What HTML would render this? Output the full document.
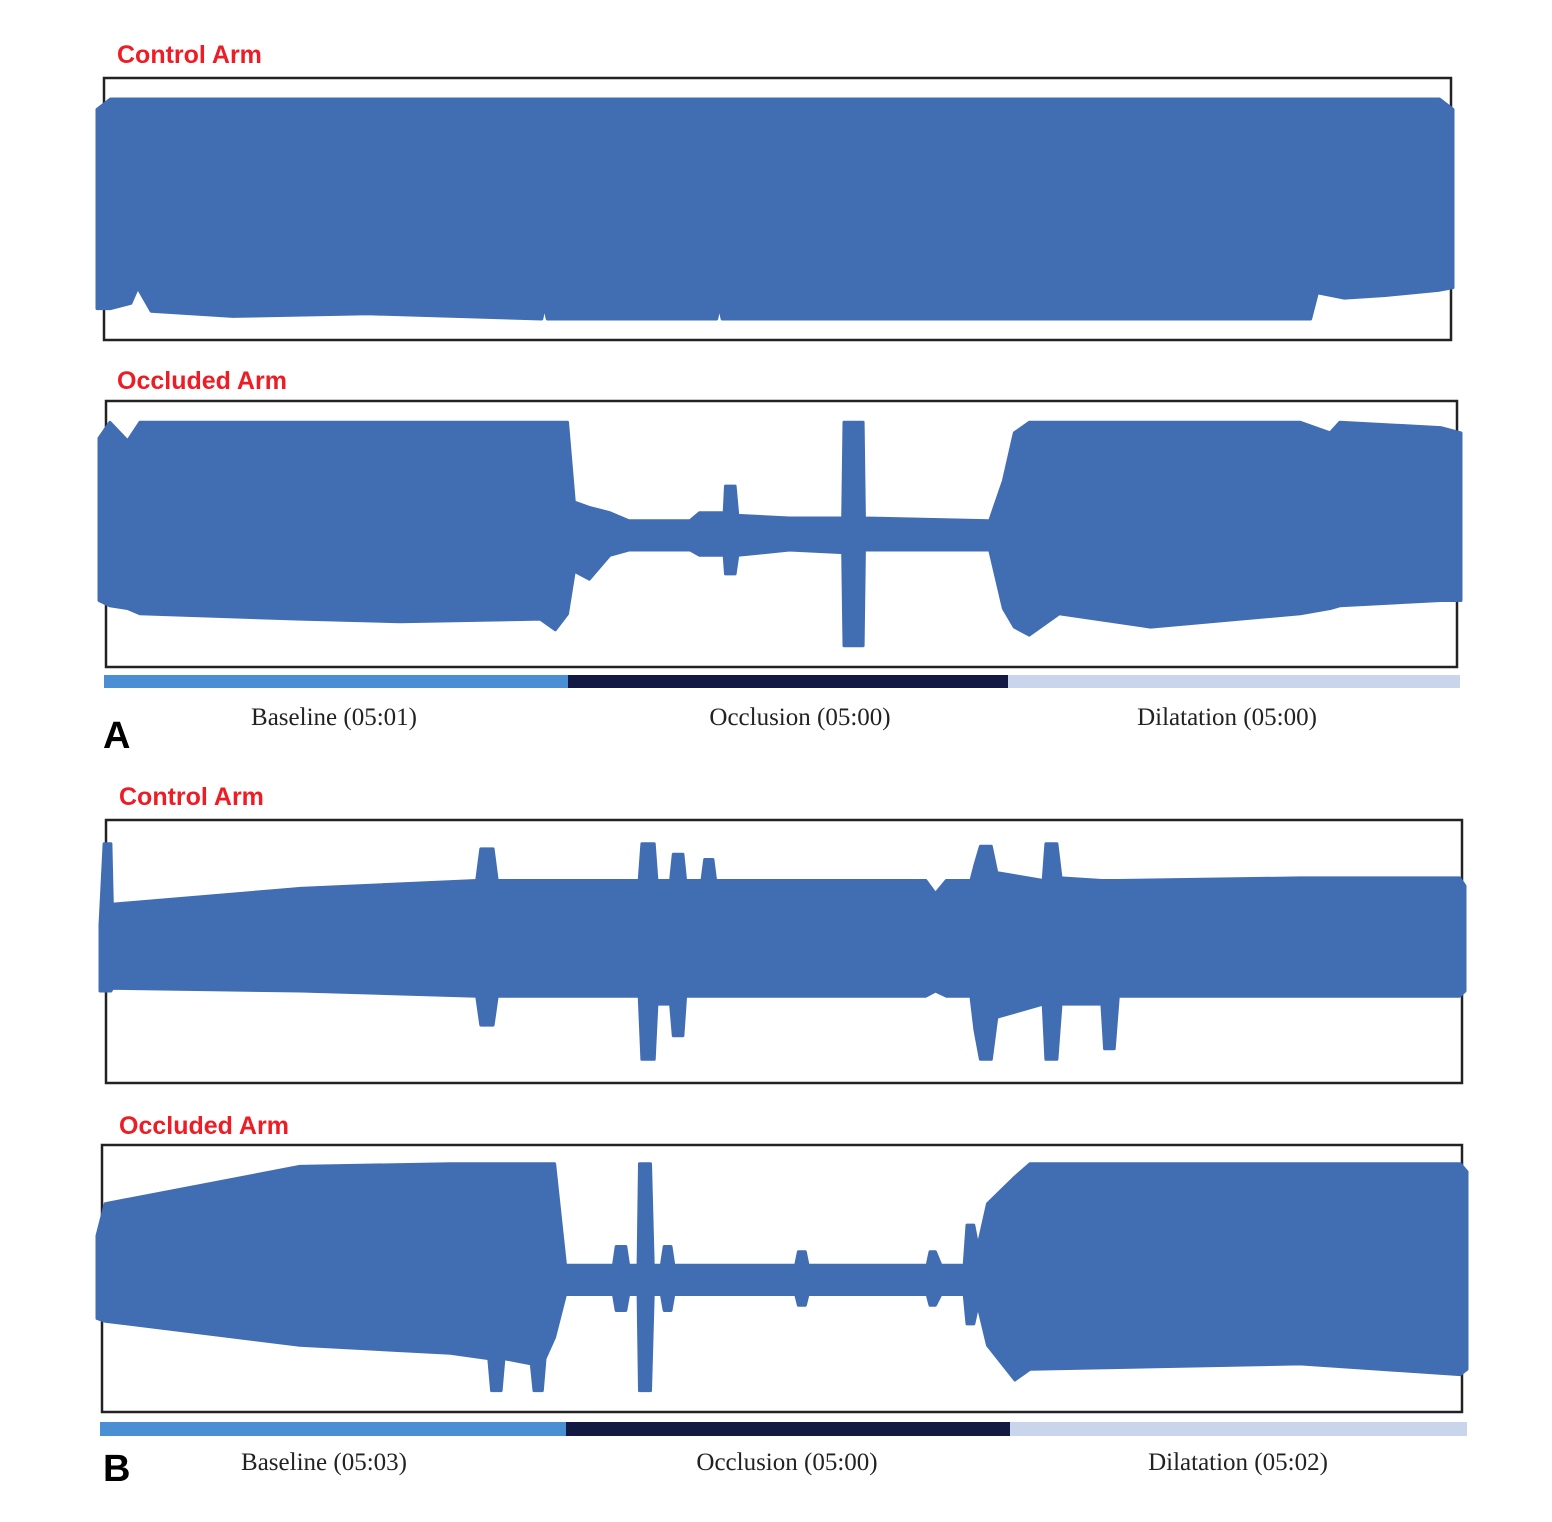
<!DOCTYPE html>
<html><head><meta charset="utf-8">
<style>
html,body{margin:0;padding:0;background:#fff;}
svg{display:block;}
.ttl{font-family:"Liberation Sans",sans-serif;font-weight:bold;font-size:25px;fill:#ee1c25;}
.lab{font-family:"Liberation Serif",serif;font-size:25px;fill:#222;}
.pl{font-family:"Liberation Sans",sans-serif;font-weight:bold;font-size:38px;fill:#000;}
</style></head>
<body>
<svg id="fig" width="1552" height="1522" viewBox="0 0 1552 1522" xmlns="http://www.w3.org/2000/svg">
<rect width="1552" height="1522" fill="#fff"/>
<text class="ttl" x="117" y="63">Control Arm</text>
<text class="ttl" x="117" y="389">Occluded Arm</text>
<text class="ttl" x="119" y="805">Control Arm</text>
<text class="ttl" x="119" y="1134">Occluded Arm</text>
<g id="panels"></g>
<rect x="104" y="675" width="464" height="13" fill="#4a8fd4"/>
<rect x="568" y="675" width="440" height="13" fill="#121a44"/>
<rect x="1008" y="675" width="452" height="13" fill="#c8d5ea"/>
<text class="lab" x="334" y="725" text-anchor="middle">Baseline (05:01)</text>
<text class="lab" x="800" y="725" text-anchor="middle">Occlusion (05:00)</text>
<text class="lab" x="1227" y="725" text-anchor="middle">Dilatation (05:00)</text>
<text class="pl" x="103" y="748">A</text>
<rect x="100" y="1422" width="466" height="14" fill="#4a8fd4"/>
<rect x="566" y="1422" width="444" height="14" fill="#121a44"/>
<rect x="1010" y="1422" width="457" height="14" fill="#c8d5ea"/>
<text class="lab" x="324" y="1470" text-anchor="middle">Baseline (05:03)</text>
<text class="lab" x="787" y="1470" text-anchor="middle">Occlusion (05:00)</text>
<text class="lab" x="1238" y="1470" text-anchor="middle">Dilatation (05:02)</text>
<text class="pl" x="103" y="1481">B</text>
</svg>
<script>
// time (% of recording), upper and lower envelope (% of panel height)
const aCtrlT=[0,1,2.5,3,4,10,20,32.8,33,33.2,45.7,45.9,46.1,60,70,80,89.5,90,92,95,99,100];
const aCtrlUp=[88,92,92,92,92,92,92,92,92,92,92,92,92,92,92,92,92,92,92,92,92,88];
const aCtrlLo=[12,12,14,20,11,9,10,8,13,8,8,13,8,8,8,8,8,18,16,17,19,20];

const aOccT=[0,0.8,2.1,3.0,14.8,22.1,32.4,33.5,34.4,34.9,36.0,37.5,38.9,43.4,44.1,45.9,46.0,46.7,46.9,50.7,54.6,54.7,56.1,56.2,65.4,66.4,67.2,68.3,70.5,77.2,88.2,90.4,91.1,98.5,100];
const aOccUp=[86,92,85,92,92,92,92,92,92,62,60,58,55,55,58,58,68,68,57,56,56,92,92,56,55,70,88,92,92,92,92,88,92,90,88];
const aOccLo=[25,23,22,20,18,17,18,14,20,36,33,42,44,44,42,42,35,35,42,44,43,8,8,44,44,22,15,12,20,15,20,22,23,25,25];

const bCtrlT=[0,0.3,0.8,0.9,14.7,27.6,27.9,28.8,29.1,39.5,39.7,40.6,40.8,41.8,42.0,42.7,42.9,44.1,44.3,44.9,45.1,60.5,61.2,62.0,63.8,64.1,64.5,65.3,65.7,69.1,69.3,70.1,70.4,73.4,73.6,74.3,74.6,87.9,99.6,100];
const bCtrlUp=[60,91,91,68,74,77,89,89,77,77,91,91,77,77,87,87,77,77,85,85,77,77,72,77,77,83,90,90,80,77,91,91,78,77,77,77,77,78,78,75];
const bCtrlLo=[35,35,35,36,35,33,22,22,33,33,9,9,30,30,18,18,33,33,33,33,33,33,35,33,33,20,9,9,25,30,9,9,30,30,13,13,33,33,33,35];

const bOccT=[0,0.6,14.8,25.8,28.6,28.8,29.5,29.7,31.7,31.9,32.5,32.7,33.4,34.2,37.7,37.9,38.6,38.8,39.5,39.6,40.4,40.6,41.2,41.4,41.9,42.1,51.0,51.2,51.7,51.9,60.6,60.8,61.2,61.6,63.3,63.5,64.0,64.3,65.0,67.0,68.1,87.8,99.5,100];
const bOccUp=[66,78,92,93,93,93,93,93,93,93,93,93,93,55,55,62,62,55,55,93,93,55,55,62,62,55,55,60,60,55,55,60,60,55,55,70,70,62,78,88,93,93,93,90];
const bOccLo=[35,34,25,22,20,8,8,20,18,8,8,20,28,44,44,38,38,44,44,8,8,44,44,38,38,44,44,40,40,44,44,40,40,44,44,33,33,40,25,12,16,18,14,16];

const panels=[
 {name:'a-control',box:[104,78,1347,262],fx:[97,1453],T:aCtrlT,U:aCtrlUp,L:aCtrlLo},
 {name:'a-occluded',box:[106,401,1351,266],fx:[99,1461],T:aOccT,U:aOccUp,L:aOccLo},
 {name:'b-control',box:[106,820,1356,263],fx:[100,1465],T:bCtrlT,U:bCtrlUp,L:bCtrlLo},
 {name:'b-occluded',box:[102,1145,1360,267],fx:[97,1467],T:bOccT,U:bOccUp,L:bOccLo}
];
const NS='http://www.w3.org/2000/svg';
const g=document.getElementById('panels');
panels.forEach(p=>{
  const [bx,by,bw,bh]=p.box;
  const xs=t=>p.fx[0]+t/100*(p.fx[1]-p.fx[0]);
  const ys=v=>by+bh-v/100*bh;
  const box=document.createElementNS(NS,'rect');
  box.setAttribute('x',bx);box.setAttribute('y',by);box.setAttribute('width',bw);box.setAttribute('height',bh);
  box.setAttribute('fill','none');box.setAttribute('stroke','#222');box.setAttribute('stroke-width','2.5');
  
  
  g.appendChild(box);
  let pts=[];
  for(let i=0;i<p.T.length;i++)pts.push(xs(p.T[i]).toFixed(1)+','+ys(p.U[i]).toFixed(1));
  for(let i=p.T.length-1;i>=0;i--)pts.push(xs(p.T[i]).toFixed(1)+','+ys(p.L[i]).toFixed(1));
  const poly=document.createElementNS(NS,'polygon');
  poly.setAttribute('points',pts.join(' '));
  poly.setAttribute('fill','#416db3');
  poly.setAttribute('stroke','#416db3');
  poly.setAttribute('stroke-width','3');
  poly.setAttribute('stroke-linejoin','round');
  
  
  g.appendChild(poly);
});
</script>
</body></html>
